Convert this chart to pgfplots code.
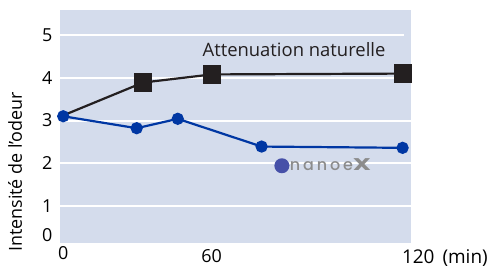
\documentclass[border=0pt]{standalone}
\usepackage{pgfplots}
\pgfplotsset{compat=1.18}
\usepackage{fontspec}
\setmainfont{Open Sans}
\newfontfamily\logofont[LetterSpace=18]{Poppins Medium}
\newfontfamily\logoX{Poppins}
\definecolor{bg}{HTML}{D4DCEC}
\definecolor{blk}{HTML}{231F20}
\definecolor{blu}{HTML}{0037A3}
\definecolor{logoblue}{HTML}{4650A8}
\definecolor{logogrey}{HTML}{8C8C8C}
\begin{document}
\begin{tikzpicture}
\begin{axis}[
  at={(60bp,24bp)}, anchor=south west,
  scale only axis, width=351bp, height=233bp,
  xmin=-1.3, xmax=140.6, ymin=0.13, ymax=5.59,
  axis background/.style={fill=bg},
  axis line style={draw=none},
  major tick length=0pt,
  font=\fontsize{18}{21}\selectfont,
  /pgf/number format/assume math mode=true,
  ytick={1,2,3,4,5},
  extra y ticks={0.31}, extra y tick labels={0},
  extra y tick style={grid=none},
  ymajorgrids, grid style={white, line width=2bp, shorten >=7bp},
  xtick={0}, xticklabels={0},
  extra x ticks={60}, extra x tick labels={60},
  extra x tick style={grid=none, xticklabel style={yshift=-3bp}},
  yticklabel style={xshift=-4bp},
  ylabel={Intensité de l'odeur},
  ylabel style={at={(axis description cs:-0.128,0.305)}, anchor=center},
  clip=false,
]
\addplot[blk, line width=2.2bp, mark=square*, mark size=8bp, mark options={fill=blk}, mark indices={2,3,4}]
  coordinates {(0,3.12) (32.3,3.89) (60,4.08) (137.3,4.1)};
\addplot[blu, line width=2.2bp, mark=*, mark size=5bp, mark options={fill=blu}]
  coordinates {(0,3.1) (29.7,2.82) (46.3,3.04) (80.2,2.39) (137.2,2.36)};
\node[anchor=base, text=blk] at (axis cs:93.3,4.49) {\fontsize{18.5}{21}\selectfont Attenuation naturelle};
\node[anchor=north west, inner sep=0pt] at (axis cs:136.9,-0.01) {\fontsize{19}{21}\selectfont 120\hspace{8bp}(min)};
\node[circle, fill=logoblue, inner sep=0pt, minimum size=15bp] at (axis cs:88.4,1.94) {};
\node[anchor=base west, inner sep=0pt, text=logogrey] at (axis cs:90.4,1.82) {\textcolor{logoblue}{\logoX\fontsize{14}{16}\selectfont ·}\logofont\fontsize{16}{16}\selectfont nanoe\logoX\fontsize{17}{20}\selectfont\scalebox{1.5}[1]{\textbf{X}}};
\end{axis}
\pgfresetboundingbox
\path[use as bounding box] (0,0) rectangle (497bp,267bp);
\end{tikzpicture}
\end{document}
